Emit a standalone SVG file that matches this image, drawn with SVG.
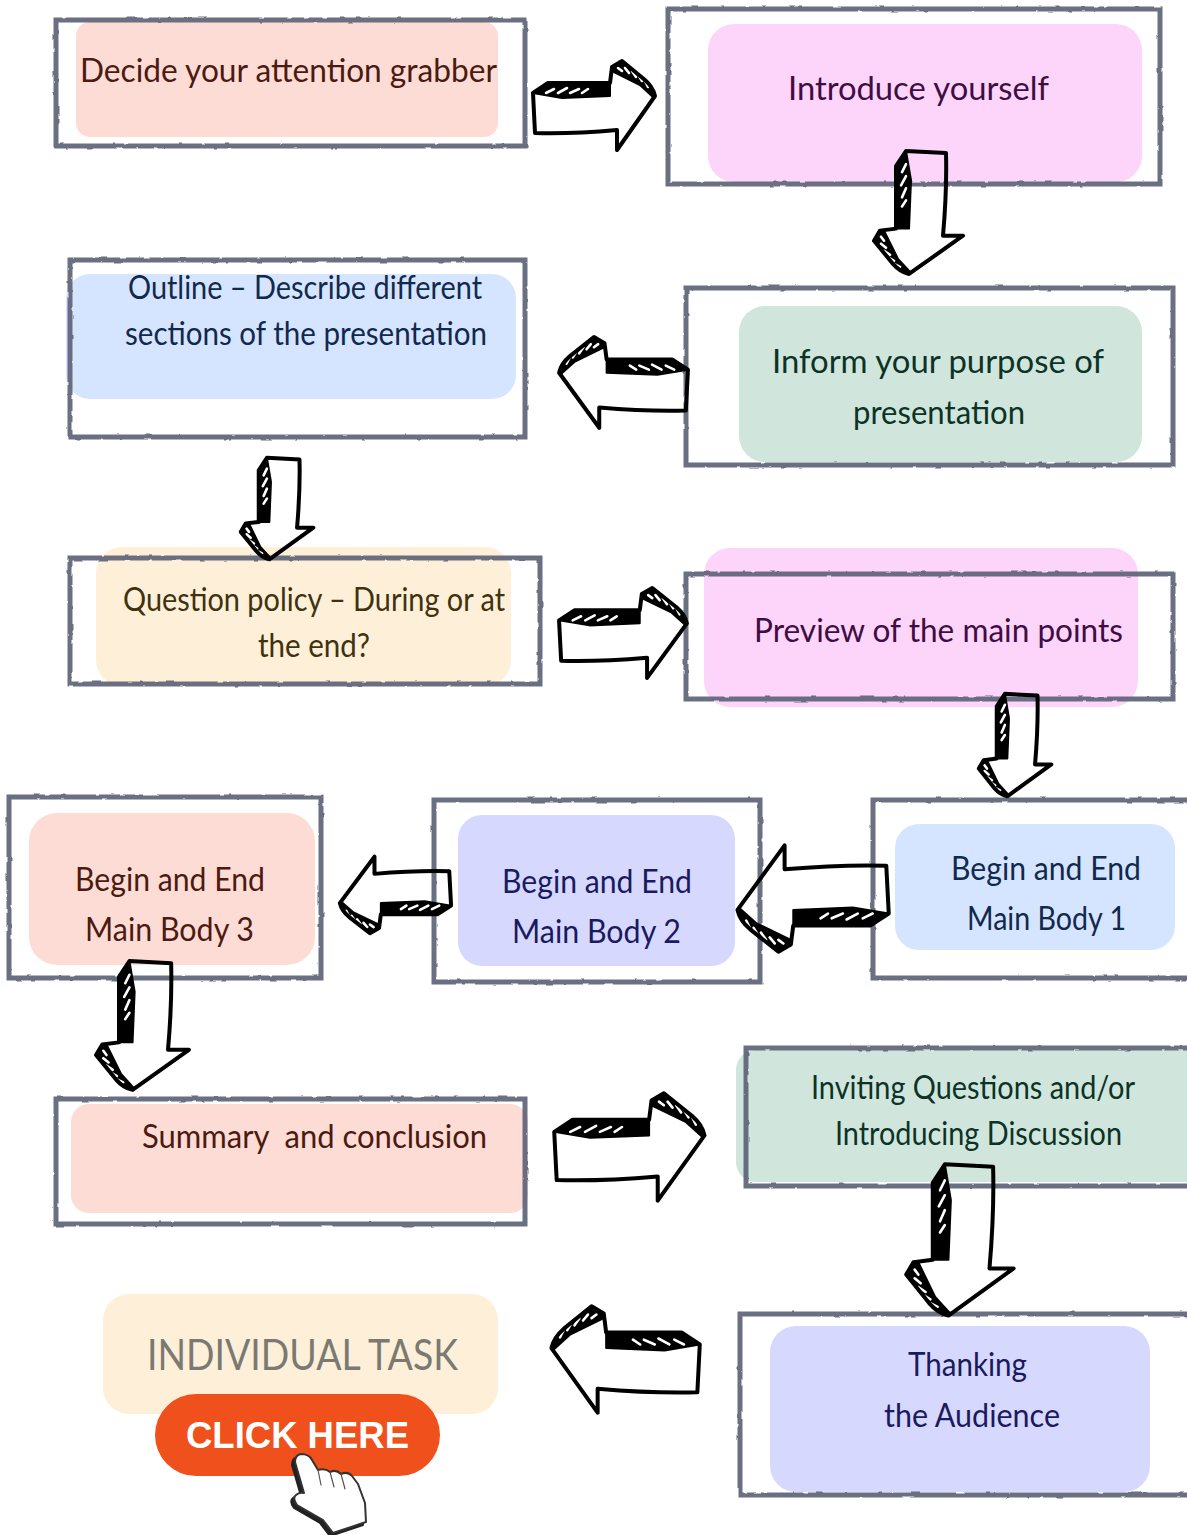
<svg xmlns="http://www.w3.org/2000/svg" xmlns:xlink="http://www.w3.org/1999/xlink" width="1187" height="1535" viewBox="0 0 1187 1535">
<style>
.box{fill:none;stroke:#5f6378;stroke-width:5;opacity:.92;filter:url(#rough)}
.t{font-family:"Lato","Open Sans",sans-serif;font-size:32px;transform:translateY(1px)}
.red{fill:#fedcd6}.pink{fill:#fdd5fb}.blue{fill:#d6e5ff}.green{fill:#d0e6dd}.yellow{fill:#fef0d8}.violet{fill:#d7d8fe}
.tred{fill:#4c1a10}.tpink{fill:#400d43}.tblue{fill:#12294e}.tgreen{fill:#0c3326}.tyellow{fill:#40320e}.tviolet{fill:#1a1a5e}
.ol{fill:none;stroke:#000;stroke-width:4;stroke-linejoin:round;stroke-linecap:round;vector-effect:non-scaling-stroke}
.bd{fill:#000;stroke:#000;stroke-width:2;stroke-linejoin:round;vector-effect:non-scaling-stroke}
.ht{fill:none;stroke:#fff;stroke-width:2.6;stroke-linecap:round;vector-effect:non-scaling-stroke}
</style>
<defs>
<filter id="rough" x="-5%" y="-5%" width="110%" height="110%">
<feTurbulence type="fractalNoise" baseFrequency="0.09" numOctaves="2" seed="4"/>
<feDisplacementMap in="SourceGraphic" scale="2.5" xChannelSelector="R" yChannelSelector="G"/>
</filter>
<g id="arrow">
<path class="bd" d="M1,33 L16,24 L78,24 L78,36 L30,38 Z"/>
<path class="bd" d="M80,8 L90,2 L113,20 L122,33 L122,38 L108,25 L80,11 Z"/>
<path class="ht" d="M14,33L22,29M26,33L35,28M38,33L47,29M50,33L56,29"/>
<path class="ht" d="M86,8L90,11M93,8L97,13M100,11L104,17M107,16L110,21M113,21L116,27"/>
<path class="ol" d="M1,33 L16,23 L78,23 L80,7 L90,1 L113,20 Q121,27 123,36 L85,90 L85,70 Q40,74 3,73 Z"/>
</g>
</defs>

<g id="node-1"><rect class="red" x="76" y="22" width="422" height="115" rx="14"/><rect class="box" x="56" y="20" width="469" height="126"/><text class="t tred" x="80" y="81" textLength="417" lengthAdjust="spacingAndGlyphs">Decide your attention grabber</text></g>
<g id="node-2"><rect class="pink" x="708" y="24" width="434" height="158" rx="26"/><rect class="box" x="668" y="9" width="492" height="175"/><text class="t tpink" x="788" y="99" textLength="261" lengthAdjust="spacingAndGlyphs">Introduce yourself</text></g>
<g id="node-3"><rect class="blue" x="66" y="274" width="450" height="125" rx="24"/><rect class="box" x="70" y="260" width="455" height="177"/><text class="t tblue" x="128" y="298" textLength="354" lengthAdjust="spacingAndGlyphs">Outline – Describe different</text><text class="t tblue" x="125" y="344" textLength="362" lengthAdjust="spacingAndGlyphs">sections of the presentation</text></g>
<g id="node-4"><rect class="green" x="739" y="306" width="403" height="156" rx="26"/><rect class="box" x="686" y="288" width="487" height="177"/><text class="t tgreen" x="772" y="372" textLength="332" lengthAdjust="spacingAndGlyphs">Inform your purpose of</text><text class="t tgreen" x="853" y="423" textLength="172" lengthAdjust="spacingAndGlyphs">presentation</text></g>
<g id="node-5"><rect class="yellow" x="96" y="547" width="415" height="139" rx="26"/><rect class="box" x="70" y="558" width="470" height="126"/><text class="t tyellow" x="123" y="610" textLength="382" lengthAdjust="spacingAndGlyphs">Question policy – During or at</text><text class="t tyellow" x="258" y="656" textLength="112" lengthAdjust="spacingAndGlyphs">the end?</text></g>
<g id="node-6"><rect class="pink" x="704" y="548" width="434" height="159" rx="26"/><rect class="box" x="686" y="574" width="487" height="125"/><text class="t tpink" x="754" y="641" textLength="369" lengthAdjust="spacingAndGlyphs">Preview of the main points</text></g>
<g id="node-7"><rect class="red" x="29" y="813" width="286" height="152" rx="28"/><rect class="box" x="9" y="797" width="312" height="181"/><text class="t tred" x="75" y="890" textLength="190" lengthAdjust="spacingAndGlyphs">Begin and End</text><text class="t tred" x="85" y="940" textLength="169" lengthAdjust="spacingAndGlyphs">Main Body 3</text></g>
<g id="node-8"><rect class="violet" x="458" y="815" width="277" height="151" rx="24"/><rect class="box" x="434" y="800" width="326" height="182"/><text class="t tviolet" x="502" y="892" textLength="190" lengthAdjust="spacingAndGlyphs">Begin and End</text><text class="t tviolet" x="512" y="942" textLength="169" lengthAdjust="spacingAndGlyphs">Main Body 2</text></g>
<g id="node-9"><rect class="blue" x="895" y="824" width="280" height="126" rx="24"/><rect class="box" x="873" y="800" width="320" height="178"/><text class="t tblue" x="951" y="879" textLength="190" lengthAdjust="spacingAndGlyphs">Begin and End</text><text class="t tblue" x="967" y="929" textLength="159" lengthAdjust="spacingAndGlyphs">Main Body 1</text></g>
<g id="node-10"><rect class="red" x="71" y="1104" width="457" height="109" rx="18"/><rect class="box" x="56" y="1099" width="469" height="125"/><text class="t tred" x="142" y="1147" textLength="345" lengthAdjust="spacingAndGlyphs" xml:space="preserve">Summary  and conclusion</text></g>
<g id="node-11"><rect class="green" x="736" y="1050" width="470" height="132" rx="20"/><rect class="box" x="746" y="1048" width="450" height="138"/><text class="t tgreen" x="811" y="1098" textLength="324" lengthAdjust="spacingAndGlyphs">Inviting Questions and/or</text><text class="t tgreen" x="835" y="1144" textLength="287" lengthAdjust="spacingAndGlyphs">Introducing Discussion</text></g>
<g id="node-12"><rect class="violet" x="770" y="1326" width="380" height="166" rx="26"/><rect class="box" x="740" y="1314" width="456" height="181"/><text class="t tviolet" x="908" y="1375" textLength="119" lengthAdjust="spacingAndGlyphs">Thanking</text><text class="t tviolet" x="884" y="1426" textLength="176" lengthAdjust="spacingAndGlyphs">the Audience</text></g>
<g id="node-13"><rect class="yellow" x="103" y="1294" width="395" height="120" rx="26"/><text class="t" fill="#7a7a72" style="font-size:42px" x="147" y="1369" textLength="311" lengthAdjust="spacingAndGlyphs">INDIVIDUAL TASK</text></g>
<g id="node-14"><rect x="155" y="1394" width="285" height="82" rx="41" fill="#f0501b"/><text x="186" y="1448" fill="#fff" font-family="'Liberation Sans',Arial,sans-serif" font-weight="700" font-size="36" textLength="223" lengthAdjust="spacingAndGlyphs">CLICK HERE</text>
<g id="hand" stroke-linejoin="round" stroke-linecap="round">
<path transform="translate(-3,3)" fill="#222" stroke="#222" stroke-width="2" d="M301,1454 Q309,1454 312,1460 L318,1470 Q325,1468 330,1472 Q336,1469 341,1474 Q348,1471 352,1476 L358,1484 L365,1503 L366,1522 L333,1533 L323,1520 L297,1505 Q292,1498 296,1495 Q299,1492 304,1493 L295,1462 Q295,1455 301,1454 Z"/>
<path fill="#fff" stroke="#333" stroke-width="2" d="M301,1454 Q309,1454 312,1460 L318,1470 Q325,1468 330,1472 Q336,1469 341,1474 Q348,1471 352,1476 L358,1484 L365,1503 L366,1522 L333,1533 L323,1520 L297,1505 Q292,1498 296,1495 Q299,1492 304,1493 L295,1462 Q295,1455 301,1454 Z"/>
<path fill="none" stroke="#555" stroke-width="1.2" d="M318,1470L321,1485M330,1472L334,1487M341,1474L345,1489"/>
</g></g>

<g id="connectors">
<use href="#arrow" transform="matrix(1,0,0,1,532,60)"/>
<use href="#arrow" transform="matrix(0,1.008,1,0,873,150)"/>
<use href="#arrow" transform="matrix(-1.056,0,0,1.02,689,336)"/>
<use href="#arrow" transform="matrix(0,.832,.815,0,240,457)"/>
<use href="#arrow" transform="matrix(1.048,0,0,1.01,558,587)"/>
<use href="#arrow" transform="matrix(0,.84,.815,0,978,693)"/>
<use href="#arrow" transform="matrix(-1.24,0,0,-1.196,890,953)"/>
<use href="#arrow" transform="matrix(-.912,0,0,-.859,452,934)"/>
<use href="#arrow" transform="matrix(0,1.056,1.043,0,95,960)"/>
<use href="#arrow" transform="matrix(1.232,0,0,1.207,553,1092)"/>
<use href="#arrow" transform="matrix(0,1.24,1.207,0,905,1163)"/>
<use href="#arrow" transform="matrix(-1.216,0,0,1.196,701,1305)"/>
</g>
</svg>
